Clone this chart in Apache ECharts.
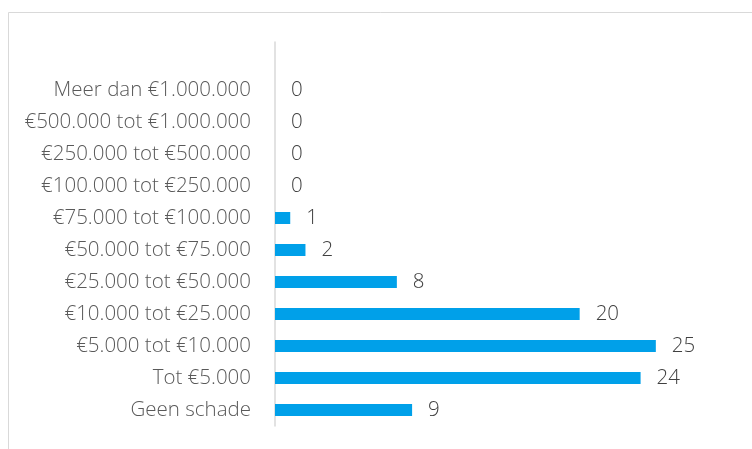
<!DOCTYPE html>
<html><head><meta charset="utf-8">
<script src="https://cdn.jsdelivr.net/npm/echarts@6/dist/echarts.min.js"></script>
<style>html,body{margin:0;padding:0;background:#fff}#c{width:752px;height:449px}</style>
</head><body><div id="c"></div>
<script>
const categories = ['Geen schade','Tot €5.000','€5.000 tot €10.000','€10.000 tot €25.000','€25.000 tot €50.000','€50.000 tot €75.000','€75.000 tot €100.000','€100.000 tot €250.000','€250.000 tot €500.000','€500.000 tot €1.000.000','Meer dan €1.000.000',''];
const values = [9,24,25,20,8,2,1,0,0,0,0,null];
const xMax = 30;
const chart = echarts.init(document.getElementById('c'), null, {renderer:'canvas'});
chart.setOption({
  animation:false,
  backgroundColor:'#fff',
  graphic:[{type:'rect',shape:{x:8.5,y:12.5,width:800,height:600},style:{fill:'none',stroke:'#d9d9d9',lineWidth:1}}],
  grid:{left:275,right:20,top:42,bottom:23,containLabel:false},
  xAxis:{type:'value',min:0,max:xMax,show:false},
  yAxis:{type:'category',data:categories,
    axisLine:{show:true,lineStyle:{color:'#d9d9d9',width:1.5}},
    axisTick:{show:false},
    axisLabel:{color:'#595959',fontSize:20.5,fontFamily:'Open Sans',fontWeight:300,margin:24,padding:[5,0,0,0]}},
  series:[{type:'bar',data:values,barWidth:12,itemStyle:{color:'#00a0e9'},
    label:{show:true,position:'right',distance:16,color:'#404040',fontSize:20.5,fontFamily:'Open Sans',fontWeight:300,padding:[5,0,0,0]}}]
});
</script></body></html>
